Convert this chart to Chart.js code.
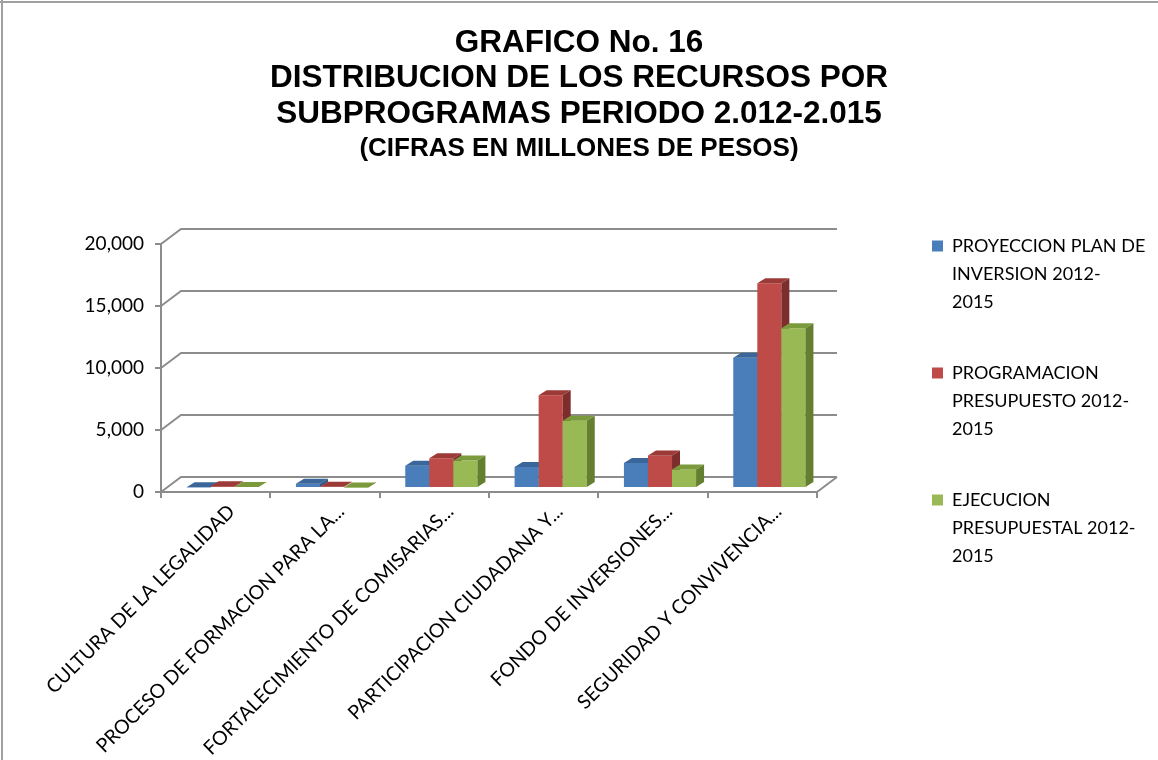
<!DOCTYPE html>
<html>
<head>
<meta charset="utf-8">
<script src="https://cdn.jsdelivr.net/npm/chart.js@4.4.1/dist/chart.umd.min.js"></script>
<style>
html,body{margin:0;padding:0;background:#ffffff;}
#wrap{width:1158px;height:760px;position:relative;}
</style>
</head>
<body>
<div id="wrap"><canvas id="c" width="1158" height="760"></canvas></div>
<script>
// ---------- data ----------
const categories = [
  'CULTURA DE LA LEGALIDAD',
  'PROCESO DE FORMACION PARA LA...',
  'FORTALECIMIENTO DE COMISARIAS...',
  'PARTICIPACION CIUDADANA Y...',
  'FONDO DE INVERSIONES...',
  'SEGURIDAD Y CONVIVENCIA...'
];
const proyeccion   = [60, 350, 1800, 1700, 2020, 10510];
const programacion = [150, 110, 2400, 7470, 2630, 16510];
const ejecucion    = [80, 50, 2210, 5430, 1500, 12880];
const seriesNames = [
  ['PROYECCION PLAN DE', 'INVERSION 2012-', '2015'],
  ['PROGRAMACION', 'PRESUPUESTO 2012-', '2015'],
  ['EJECUCION', 'PRESUPUESTAL 2012-', '2015']
];
const yTicks = [0, 5000, 10000, 15000, 20000];
const titleLines = ['GRAFICO No. 16', 'DISTRIBUCION DE LOS RECURSOS POR', 'SUBPROGRAMAS PERIODO 2.012-2.015'];
const subtitleText = '(CIFRAS EN MILLONES DE PESOS)';

// ---------- styling ----------
const frontColors = ['#4a7ebb', '#be4b48', '#98b954'];
const faceColors = [
  {top: '#3b6699', side: '#32578a'},
  {top: '#9c3a37', side: '#7d2d2b'},
  {top: '#7b9a3c', side: '#657f30'}
];
const GRID = '#8c8c8c';
const DX = 20, DY = -15;   // wall depth
const SX = 7, SY = -4;     // bar placement inside the depth
const BX = 8, BY = -5;     // bar depth
const LABEL_FONT = 'Lato, "Open Sans", sans-serif';
const TITLE_FONT = '"Liberation Sans", Arial, sans-serif';

const threeD = {
  id: 'threeD',
  afterInit(chart) {
    const lg = chart.legend;
    if (lg) {
      const f = lg.fit;
      lg.fit = function () { f.call(this); if (this.options.display) this.width = 341; };
    }
  },
  afterLayout(chart) {
    const lg = chart.legend;
    if (lg) {
      const p = lg.options.labels.padding;
      lg.left = 932 - p;
      lg.width = 1158 - lg.left;
      lg.right = 1158;
      lg.top = 237 - p;
      lg.bottom = 760;
      lg.height = lg.bottom - lg.top;
    }
  },
  beforeDraw(chart) {
    const ctx = chart.ctx;
    ctx.save();
    ctx.fillStyle = '#a0a0a0';
    ctx.fillRect(0, 1, chart.width, 2);
    ctx.fillRect(1, 0, 2, chart.height);
    ctx.restore();
  },
  beforeDatasetsDraw(chart) {
    const {ctx, chartArea: a, scales: {y}} = chart;
    ctx.save();
    ctx.strokeStyle = GRID;
    ctx.lineWidth = 2;
    ctx.beginPath();
    yTicks.forEach(v => {
      const py = y.getPixelForValue(v);
      ctx.moveTo(a.left, py);
      ctx.lineTo(a.left + DX, py + DY);
      ctx.lineTo(a.right + DX, py + DY);
    });
    ctx.moveTo(a.right, a.bottom);
    ctx.lineTo(a.right + DX, a.bottom + DY);
    ctx.stroke();
    ctx.restore();
  },
  // bars are drawn below in depth order (left to right), so skip the default pass
  beforeDatasetDraw() { return false; },
  afterDatasetsDraw(chart) {
    const ctx = chart.ctx;
    const metas = chart.data.datasets.map((d, i) => chart.getDatasetMeta(i));
    ctx.save();
    ctx.translate(SX, SY);
    categories.forEach((c, j) => {
      metas.forEach((meta, i) => {
        const bar = meta.data[j];
        if (!bar) return;
        bar.draw(ctx);
        const fc = faceColors[i];
        const {x, y, base, width} = bar.getProps(['x', 'y', 'base', 'width'], true);
        const x0 = x - width / 2, x1 = x + width / 2;
        ctx.fillStyle = fc.top;
        ctx.beginPath();
        ctx.moveTo(x0, y); ctx.lineTo(x1, y); ctx.lineTo(x1 + BX, y + BY); ctx.lineTo(x0 + BX, y + BY);
        ctx.closePath(); ctx.fill();
        ctx.fillStyle = fc.side;
        ctx.beginPath();
        ctx.moveTo(x1, y); ctx.lineTo(x1 + BX, y + BY); ctx.lineTo(x1 + BX, base + BY); ctx.lineTo(x1, base);
        ctx.closePath(); ctx.fill();
      });
    });
    ctx.restore();
  }
};

const seriesValues = [proyeccion, programacion, ejecucion];
const datasets = seriesValues.map((vals, i) => ({
  label: seriesNames[i].join(' '),
  data: vals,
  backgroundColor: frontColors[i],
  borderWidth: 0,
  categoryPercentage: 0.66,
  barPercentage: 1.0,
  clip: false
}));

new Chart(document.getElementById('c'), {
  type: 'bar',
  data: {labels: categories, datasets},
  plugins: [threeD],
  options: {
    responsive: false,
    animation: false,
    layout: {padding: {left: 0, right: 0, top: 0, bottom: 0}},
    plugins: {
      title: {
        display: true,
        text: titleLines,
        color: '#000',
        font: {family: TITLE_FONT, size: 31.5, weight: 'bold', lineHeight: 1.127},
        padding: {top: 25.5, bottom: 0}
      },
      subtitle: {
        display: true,
        text: subtitleText,
        color: '#000',
        font: {family: TITLE_FONT, size: 26, weight: 'bold', lineHeight: 1.2},
        padding: {top: 1.65, bottom: 79.15}
      },
      legend: {
        display: true,
        position: 'right',
        align: 'start',
        labels: {
          color: '#000',
          font: {family: LABEL_FONT, size: 18, lineHeight: 28 / 18},
          boxWidth: 11,
          boxHeight: 11,
          padding: 43,
          generateLabels(chart) {
            const items = Chart.defaults.plugins.legend.labels.generateLabels(chart);
            items.forEach(it => { it.text = seriesNames[it.datasetIndex]; it.lineWidth = 0; });
            return items;
          }
        }
      },
      tooltip: {enabled: false}
    },
    scales: {
      x: {
        grid: {display: true, drawOnChartArea: false, drawTicks: true, tickLength: 6, color: GRID, lineWidth: 2, offset: true},
        border: {display: true, color: GRID, width: 2},
        ticks: {
          autoSkip: false, maxRotation: 45, minRotation: 45,
          color: '#000', font: {family: LABEL_FONT, size: 19.5},
          labelOffset: 16, padding: 2
        },
        afterFit(s) { s.height = 268; }
      },
      y: {
        min: 0, max: 20000,
        grid: {display: true, drawOnChartArea: false, drawTicks: true, tickLength: 6, color: GRID, lineWidth: 2},
        border: {display: true, color: GRID, width: 2},
        ticks: {
          stepSize: 5000,
          color: '#000', font: {family: LABEL_FONT, size: 19},
          padding: 11,
          callback: v => v.toLocaleString('en-US')
        },
        afterFit(s) { s.width = 161; }
      }
    }
  }
});
</script>
</body>
</html>
